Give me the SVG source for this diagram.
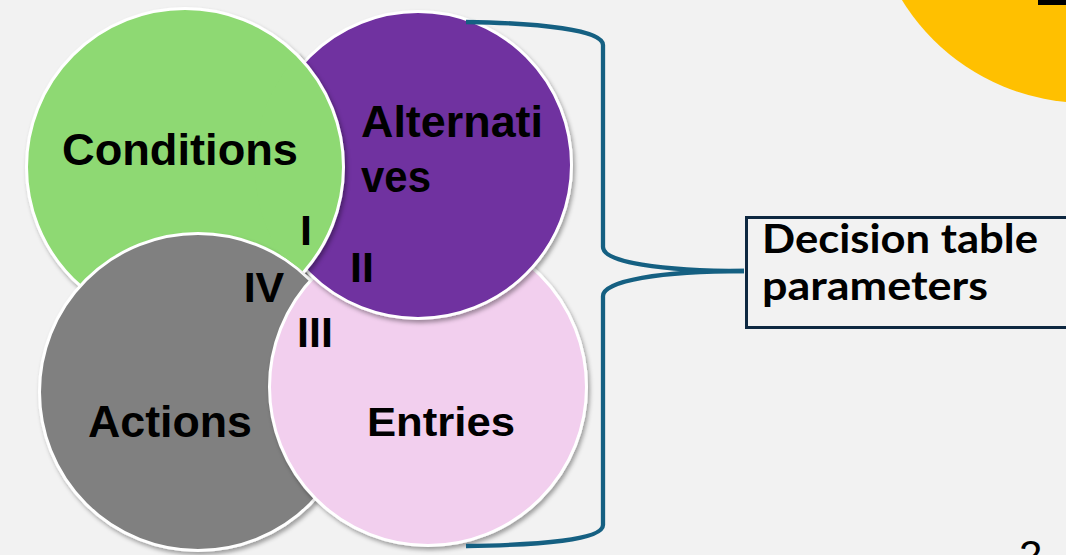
<svg xmlns="http://www.w3.org/2000/svg" width="1066" height="555" viewBox="0 0 1066 555">
  <defs>
    <style>
      .circ { stroke: #ffffff; stroke-width: 3; }
      .lbl { font-family: "Liberation Sans", Arial, sans-serif; font-weight: bold; fill: #000000; }
      .big { font-size: 44px; }
      .num { font-size: 43px; text-anchor: middle; }
      .box-text { font-family: "Lato", "Liberation Sans", sans-serif; font-weight: bold; font-size: 40px; fill: #000000; }
      .brace { fill: none; stroke: #156082; stroke-width: 4.3; stroke-linecap: butt; stroke-linejoin: round; }
    </style>
    <filter id="shadow" x="-10%" y="-10%" width="125%" height="125%">
      <feDropShadow dx="2" dy="3" stdDeviation="2.2" flood-color="#000000" flood-opacity="0.35"/>
    </filter>
    <mask id="greenOverPurple" maskUnits="userSpaceOnUse" x="0" y="0" width="1066" height="555">
      <circle cx="419" cy="166" r="164" fill="#ffffff"/>
      <circle cx="198" cy="392" r="160" fill="#000000"/>
      <circle cx="428" cy="387" r="160" fill="#000000"/>
    </mask>
  </defs>

  <rect x="0" y="0" width="1066" height="555" fill="#f2f2f2"/>

  <g id="yellow-disc">
    <circle cx="1086" cy="-113" r="216" fill="#ffc000"/>
    <rect x="1038" y="0" width="28" height="5" fill="#000000"/>
  </g>

  <g id="conditions" filter="url(#shadow)">
    <circle class="circ" cx="185" cy="167" r="158.5" fill="#8ed973"/>
  </g>
  <g id="actions" filter="url(#shadow)">
    <circle class="circ" cx="198" cy="392" r="158.5" fill="#808080"/>
  </g>
  <g id="entries" filter="url(#shadow)">
    <circle class="circ" cx="428" cy="387" r="158.5" fill="#f2cfee"/>
  </g>
  <g id="alternatives" filter="url(#shadow)">
    <circle class="circ" cx="418" cy="165" r="153.5" fill="#7030a0"/>
  </g>
  <g id="conditions-overlap" mask="url(#greenOverPurple)">
    <g filter="url(#shadow)">
      <circle class="circ" cx="185" cy="167" r="158.5" fill="#8ed973"/>
    </g>
  </g>

  <g id="circle-labels">
    <text class="lbl big" x="62" y="165" textLength="236" lengthAdjust="spacingAndGlyphs">Conditions</text>
    <text class="lbl big" x="361" y="137" textLength="182" lengthAdjust="spacingAndGlyphs">Alternati</text>
    <text class="lbl big" x="361" y="192" textLength="70" lengthAdjust="spacingAndGlyphs">ves</text>
    <text class="lbl big" x="88" y="437" textLength="164" lengthAdjust="spacingAndGlyphs">Actions</text>
    <text class="lbl" style="font-size:40px" x="367" y="436" textLength="148" lengthAdjust="spacingAndGlyphs">Entries</text>
  </g>

  <g id="region-labels">
    <text class="lbl num" x="306" y="245">I</text>
    <text class="lbl num" x="362" y="282">II</text>
    <text class="lbl num" x="315" y="347">III</text>
    <text class="lbl num" x="264" y="302">IV</text>
  </g>

  <g id="connectors">
    <path class="brace" d="M466,22 C540,23 603,30 603,45 L603,247 C603,262 660,271 744,271"/>
    <path class="brace" d="M744,271 C660,271 603,281 603,296 L603,525 C603,540 540,545 466,546"/>
  </g>

  <g id="decision-params">
    <rect x="746.5" y="217.5" width="330" height="110" fill="none" stroke="#0e2841" stroke-width="3"/>
    <text class="box-text" x="762" y="253" textLength="276" lengthAdjust="spacingAndGlyphs">Decision table</text>
    <text class="box-text" x="762" y="300" textLength="226" lengthAdjust="spacingAndGlyphs">parameters</text>
  </g>

  <g id="page-number">
    <text x="1019" y="570" font-family="Liberation Sans, Arial, sans-serif" font-size="42" fill="#000000">2</text>
  </g>
</svg>
